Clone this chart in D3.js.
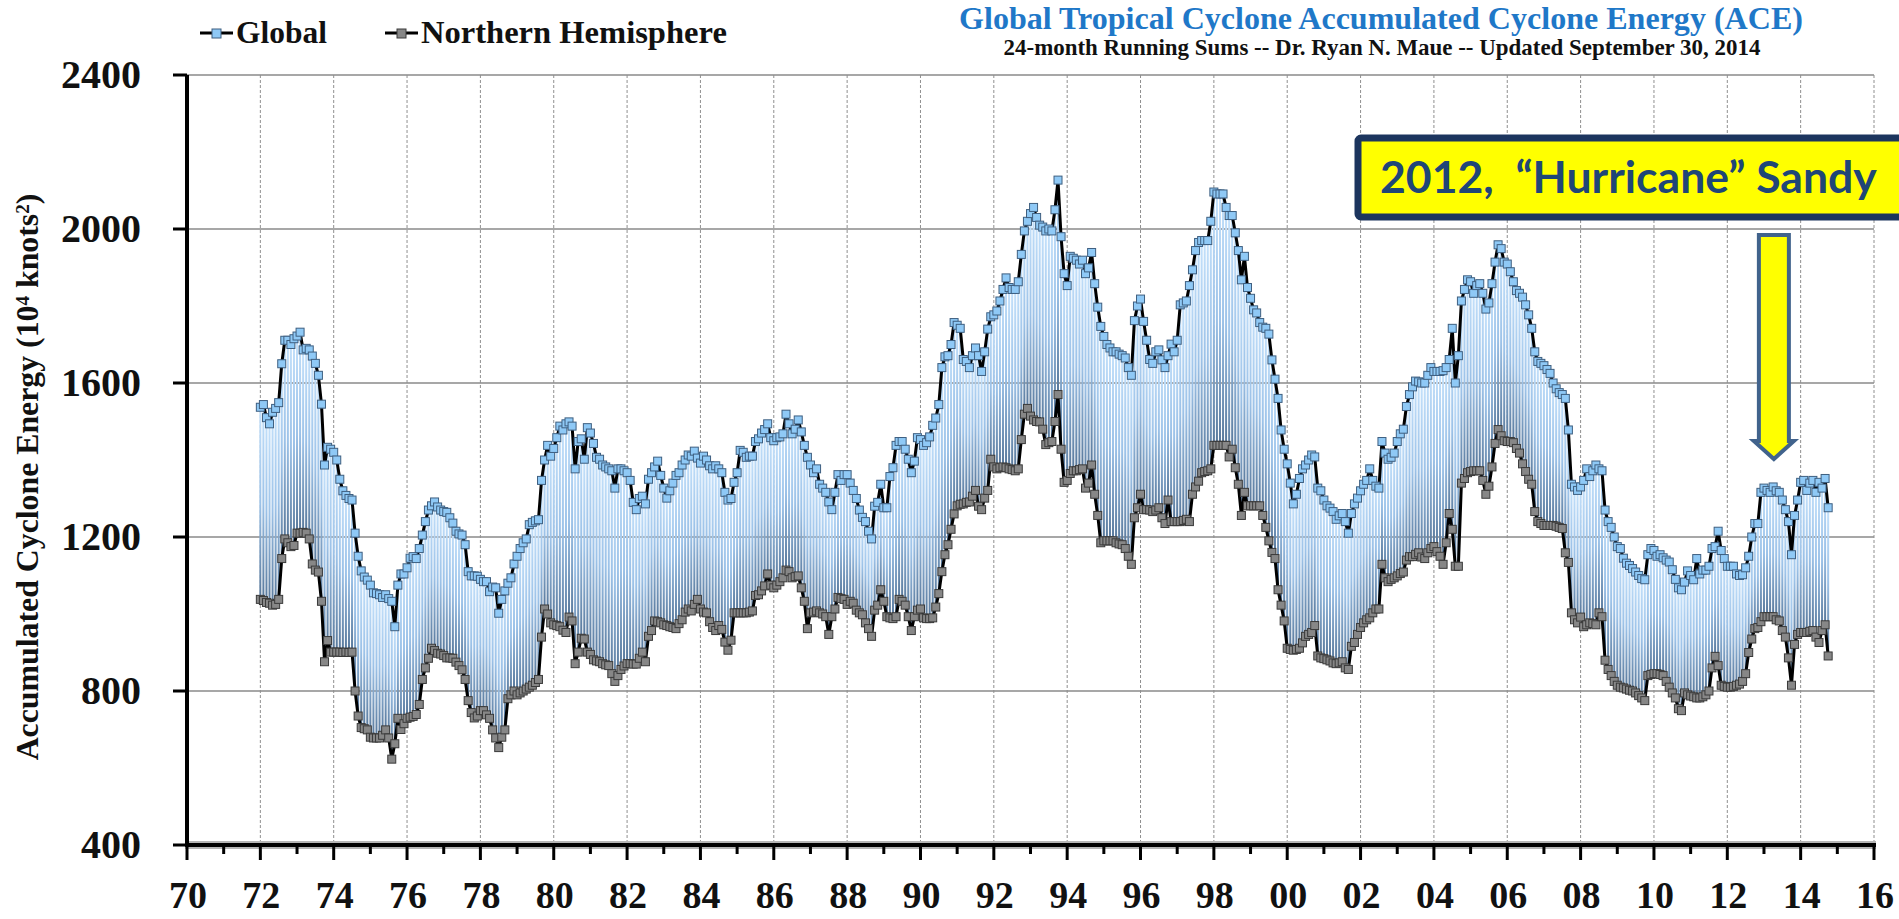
<!DOCTYPE html>
<html>
<head>
<meta charset="utf-8">
<script src="https://cdn.jsdelivr.net/npm/d3@7"></script>
<style>
  html, body { margin: 0; padding: 0; background: #fff; }
  svg { display: block; }
  text { font-family: "Liberation Serif", "Times New Roman", serif; font-weight: bold; }
</style>
</head>
<body>
<div id="chart"></div>
<script>
// 24-month running sums, one value per month starting Jan 1972
const startYear = 1972;

const globalAce = [
  1537,1544,1510,1494,1524,1534,1549,1650,1711,1711,1700,1715,
  1722,1732,1686,1690,1686,1670,1651,1620,1545,1387,1433,1428,
  1420,1400,1350,1320,1308,1300,1296,1210,1150,1112,1096,1088,
  1075,1055,1053,1050,1043,1050,1040,1033,967,1075,1104,1104,
  1120,1145,1149,1144,1170,1205,1240,1270,1281,1291,1278,1270,
  1266,1264,1250,1236,1215,1208,1205,1180,1110,1099,1099,1098,
  1090,1084,1084,1058,1070,1068,1002,1038,1060,1080,1094,1130,
  1150,1170,1185,1195,1232,1238,1242,1245,1347,1400,1438,1410,
  1430,1458,1488,1478,1494,1499,1488,1377,1448,1455,1402,1484,
  1470,1443,1407,1402,1387,1382,1377,1372,1327,1377,1377,1372,
  1367,1347,1290,1271,1300,1306,1286,1350,1367,1382,1397,1360,
  1327,1301,1320,1340,1360,1367,1387,1400,1413,1410,1423,1405,
  1392,1410,1400,1385,1377,1385,1377,1367,1316,1296,1300,1342,
  1367,1425,1420,1407,1410,1410,1448,1455,1470,1479,1494,1458,
  1450,1458,1460,1468,1519,1494,1468,1480,1504,1473,1438,1407,
  1387,1367,1377,1337,1327,1316,1291,1271,1316,1362,1347,1362,
  1362,1340,1321,1300,1270,1251,1240,1215,1195,1280,1290,1337,
  1276,1276,1357,1380,1438,1448,1448,1428,1402,1367,1397,1458,
  1453,1438,1445,1460,1490,1509,1544,1640,1668,1671,1700,1757,
  1750,1742,1661,1656,1640,1671,1691,1671,1630,1681,1740,1772,
  1777,1787,1813,1843,1873,1848,1843,1843,1863,1934,1995,2020,
  2040,2056,2030,2010,2005,1995,2000,1995,2050,2127,1980,1884,
  1853,1929,1924,1919,1909,1919,1884,1899,1939,1858,1797,1747,
  1721,1700,1691,1681,1681,1675,1671,1665,1640,1620,1762,1800,
  1818,1760,1711,1661,1651,1681,1686,1660,1640,1671,1701,1681,
  1711,1803,1808,1813,1853,1894,1944,1965,1970,1970,1970,2020,
  2096,2091,2091,2091,2056,2035,2035,1990,1944,1868,1929,1848,
  1820,1790,1782,1757,1745,1742,1727,1660,1610,1560,1478,1428,
  1390,1340,1286,1311,1352,1377,1387,1400,1413,1408,1327,1320,
  1296,1281,1275,1266,1246,1255,1261,1240,1210,1261,1286,1301,
  1320,1337,1347,1377,1347,1332,1327,1448,1418,1402,1407,1418,
  1448,1468,1480,1539,1570,1590,1605,1603,1600,1600,1620,1640,
  1630,1630,1630,1632,1640,1661,1742,1600,1671,1813,1843,1868,
  1863,1833,1853,1858,1833,1792,1808,1858,1914,1959,1949,1914,
  1909,1889,1863,1840,1833,1823,1803,1777,1742,1681,1656,1651,
  1645,1635,1625,1600,1585,1575,1570,1560,1478,1337,1330,1321,
  1330,1347,1377,1357,1372,1387,1377,1372,1270,1240,1225,1200,
  1175,1170,1145,1132,1126,1118,1109,1100,1092,1089,1154,1170,
  1165,1150,1154,1146,1140,1135,1115,1090,1068,1063,1083,1112,
  1100,1089,1144,1104,1114,1114,1124,1170,1175,1215,1165,1144,
  1124,1124,1124,1104,1100,1102,1120,1150,1200,1235,1235,1316,
  1327,1321,1316,1330,1320,1316,1296,1271,1240,1154,1256,1296,
  1342,1347,1321,1340,1347,1316,1342,1327,1352,1276
];

const nhAce = [
  1038,1035,1030,1028,1023,1025,1038,1144,1195,1185,1175,1178,
  1210,1210,1212,1210,1195,1130,1114,1109,1033,876,931,901,
  901,901,901,900,901,900,901,800,735,705,702,699,
  680,678,678,678,685,699,678,623,663,729,700,715,
  729,732,734,739,765,830,860,885,911,905,898,896,
  892,886,886,885,875,866,855,830,775,744,730,735,
  749,749,738,729,699,678,653,680,699,780,790,800,
  790,795,800,805,810,815,822,830,940,1013,1000,977,
  972,970,967,958,952,992,982,871,901,937,935,901,
  895,881,878,876,871,868,866,845,825,840,856,865,
  871,871,870,870,885,901,876,942,957,982,980,977,
  972,970,967,965,962,975,985,1005,1013,1008,1025,1038,
  1013,1005,1003,980,965,957,970,960,927,906,932,1003,
  1003,1003,1003,1003,1005,1008,1048,1050,1060,1073,1104,1075,
  1068,1075,1084,1094,1114,1110,1094,1097,1099,1068,1033,962,
  1003,1005,1008,1003,1000,993,947,993,1013,1043,1040,1038,
  1025,1033,1028,1010,1003,998,977,962,942,1010,1023,1063,
  1033,993,990,988,993,1038,1033,1023,993,957,993,1010,
  1013,990,988,988,990,1018,1053,1110,1154,1180,1220,1260,
  1281,1285,1286,1290,1291,1306,1321,1280,1271,1301,1321,1402,
  1382,1377,1380,1382,1380,1377,1375,1372,1377,1453,1519,1534,
  1514,1504,1500,1499,1480,1440,1445,1448,1500,1570,1428,1342,
  1347,1365,1372,1372,1375,1377,1327,1340,1387,1311,1256,1185,
  1190,1190,1190,1190,1185,1182,1180,1170,1150,1129,1250,1276,
  1311,1271,1271,1270,1266,1270,1276,1250,1235,1296,1240,1240,
  1240,1240,1243,1246,1240,1311,1330,1345,1367,1370,1372,1377,
  1438,1438,1438,1438,1438,1408,1428,1380,1337,1256,1316,1281,
  1281,1281,1281,1281,1256,1225,1190,1160,1144,1063,1023,982,
  911,908,906,908,911,925,942,947,952,970,891,886,
  884,881,878,873,871,873,876,860,856,916,926,947,
  965,977,985,990,1003,1013,1013,1129,1094,1084,1090,1094,
  1099,1105,1109,1140,1149,1149,1155,1159,1148,1144,1159,1170,
  1175,1162,1150,1129,1185,1261,1220,1124,1124,1340,1352,1367,
  1370,1372,1372,1372,1347,1311,1332,1382,1443,1479,1463,1450,
  1448,1448,1445,1430,1418,1390,1370,1350,1337,1266,1240,1235,
  1230,1230,1230,1230,1228,1225,1222,1159,1134,1003,985,977,
  992,967,972,977,975,972,1003,993,880,856,840,825,
  815,810,808,805,802,800,795,788,782,775,840,843,
  845,845,843,840,825,810,795,782,754,749,795,790,
  787,785,782,782,785,790,800,860,890,866,815,812,
  810,810,812,815,818,825,845,900,935,962,965,980,
  993,993,993,993,985,982,957,940,886,815,921,947,
  952,952,952,955,957,940,926,957,972,891
];

const yTicks = [400, 800, 1200, 1600, 2000, 2400];
const xMajorYears = [1970,1972,1974,1976,1978,1980,1982,1984,1986,1988,1990,1992,
  1994,1996,1998,2000,2002,2004,2006,2008,2010,2012,2014,2016];
const xMinorYears = [1971,1973,1975,1977,1979,1981,1983,1985,1987,1989,1991,1993,
  1995,1997,1999,2001,2003,2005,2007,2009,2011,2013,2015];

const width = 1899;
const height = 919;

const svg = d3.select("#chart").append("svg")
  .attr("width", width)
  .attr("height", height);

const x = d3.scaleLinear().domain([1970, 2016]).range([187, 1874]);
const y = d3.scaleLinear().domain([400, 2400]).range([845, 75]);

const data = globalAce.map((g, i) => ({ t: startYear + i / 12, g: g, nh: nhAce[i] }));

// squeeze / stretch a text's font size until it has the wanted width
function fitWidth(sel, w) {
  const cur = sel.node().getComputedTextLength();
  const fs = parseFloat(sel.style("font-size"));
  sel.style("font-size", (fs * w / cur) + "px");
}

const defs = svg.append("defs");
const grad = defs.append("linearGradient")
  .attr("id", "hl")
  .attr("x1", 0).attr("y1", 0).attr("x2", 0).attr("y2", 1);
grad.append("stop").attr("offset", "0%").attr("stop-color", "#c4e1fb");
grad.append("stop").attr("offset", "50%").attr("stop-color", "#9cc2e8");
grad.append("stop").attr("offset", "100%").attr("stop-color", "#57779a");

// grid
svg.append("g")
  .selectAll("line")
  .data(yTicks.filter((d) => d > 400))
  .join("line")
  .attr("x1", x(1970)).attr("x2", x(2016))
  .attr("y1", (d) => y(d)).attr("y2", (d) => y(d))
  .attr("stroke", "#8a8a8a")
  .attr("stroke-width", 1.3);

svg.append("g")
  .selectAll("line")
  .data(xMajorYears.filter((d) => d > 1970))
  .join("line")
  .attr("x1", (d) => x(d)).attr("x2", (d) => x(d))
  .attr("y1", y(2400)).attr("y2", y(400))
  .attr("stroke", "#8f8f8f")
  .attr("stroke-width", 1)
  .attr("stroke-dasharray", "3 2");

// high-low lines between the two series
svg.append("g")
  .selectAll("rect")
  .data(data)
  .join("rect")
  .attr("x", (d) => x(d.t) - 1)
  .attr("width", 2)
  .attr("y", (d) => y(d.g))
  .attr("height", (d) => y(d.nh) - y(d.g))
  .attr("fill", "url(#hl)");

const lineG = d3.line().x((d) => x(d.t)).y((d) => y(d.g));
const lineN = d3.line().x((d) => x(d.t)).y((d) => y(d.nh));

svg.append("path").datum(data).attr("d", lineN)
  .attr("fill", "none").attr("stroke", "#000").attr("stroke-width", 3)
  .attr("stroke-linejoin", "round");
svg.append("path").datum(data).attr("d", lineG)
  .attr("fill", "none").attr("stroke", "#000").attr("stroke-width", 3)
  .attr("stroke-linejoin", "round");

const ms = 8;
svg.append("g")
  .selectAll("rect")
  .data(data)
  .join("rect")
  .attr("x", (d) => x(d.t) - ms / 2)
  .attr("y", (d) => y(d.nh) - ms / 2)
  .attr("width", ms).attr("height", ms)
  .attr("fill", "#878787")
  .attr("stroke", "#3a3a3a")
  .attr("stroke-width", 1);

svg.append("g")
  .selectAll("rect")
  .data(data)
  .join("rect")
  .attr("x", (d) => x(d.t) - ms / 2)
  .attr("y", (d) => y(d.g) - ms / 2)
  .attr("width", ms).attr("height", ms)
  .attr("fill", "#8fc9f6")
  .attr("stroke", "#3e5f80")
  .attr("stroke-width", 1);

// axes
svg.append("line")
  .attr("x1", x(1970) - 2).attr("x2", x(2016) + 2)
  .attr("y1", y(400)).attr("y2", y(400))
  .attr("stroke", "#b5b5b5").attr("stroke-width", 8);
svg.append("line")
  .attr("x1", x(1970) - 2).attr("x2", x(2016) + 2)
  .attr("y1", y(400)).attr("y2", y(400))
  .attr("stroke", "#000").attr("stroke-width", 4);
svg.append("line")
  .attr("x1", x(1970)).attr("x2", x(1970))
  .attr("y1", y(2400)).attr("y2", y(400))
  .attr("stroke", "#000").attr("stroke-width", 4);

svg.append("g")
  .selectAll("line")
  .data(yTicks)
  .join("line")
  .attr("x1", x(1970) - 14).attr("x2", x(1970))
  .attr("y1", (d) => y(d)).attr("y2", (d) => y(d))
  .attr("stroke", "#000").attr("stroke-width", 3);

svg.append("g")
  .selectAll("line")
  .data(xMajorYears)
  .join("line")
  .attr("x1", (d) => x(d)).attr("x2", (d) => x(d))
  .attr("y1", y(400)).attr("y2", y(400) + 15)
  .attr("stroke", "#000").attr("stroke-width", 3);
svg.append("g")
  .selectAll("line")
  .data(xMinorYears)
  .join("line")
  .attr("x1", (d) => x(d)).attr("x2", (d) => x(d))
  .attr("y1", y(400)).attr("y2", y(400) + 9)
  .attr("stroke", "#000").attr("stroke-width", 3);

svg.append("g")
  .selectAll("text")
  .data(yTicks)
  .join("text")
  .attr("x", 141)
  .attr("y", (d) => y(d) + 13)
  .attr("text-anchor", "end")
  .style("font-size", "40px")
  .attr("fill", "#111")
  .text((d) => d);

svg.append("g")
  .selectAll("text")
  .data(xMajorYears)
  .join("text")
  .attr("x", (d) => x(d) + 1)
  .attr("y", 908)
  .attr("text-anchor", "middle")
  .style("font-size", "38px")
  .attr("fill", "#111")
  .text((d) => d3.format("02d")(d % 100));

// y axis title
const yTitle = svg.append("text")
  .attr("transform", "translate(38,477) rotate(-90)")
  .attr("text-anchor", "middle")
  .style("font-size", "26px")
  .attr("fill", "#111");
yTitle.append("tspan").text("Accumulated Cyclone Energy (10");
yTitle.append("tspan").attr("dy", -9).style("font-size", "0.6em").text("4");
yTitle.append("tspan").attr("dy", 9).text(" knots");
yTitle.append("tspan").attr("dy", -9).style("font-size", "0.6em").text("2");
yTitle.append("tspan").attr("dy", 9).text(")");
fitWidth(yTitle, 567);

// title block
const title = svg.append("text")
  .attr("x", 1381).attr("y", 29)
  .attr("text-anchor", "middle")
  .style("font-size", "28px")
  .attr("fill", "#1f78c8")
  .text("Global Tropical Cyclone Accumulated Cyclone Energy (ACE)");
fitWidth(title, 844);

const subtitle = svg.append("text")
  .attr("x", 1382).attr("y", 55)
  .attr("text-anchor", "middle")
  .style("font-size", "20px")
  .attr("fill", "#111")
  .text("24-month Running Sums -- Dr. Ryan N. Maue -- Updated September 30, 2014");
fitWidth(subtitle, 757);

// legend
const legendItems = [
  { name: "Global", x0: 200, fill: "#8fc9f6", stroke: "#3e5f80", w: 91 },
  { name: "Northern Hemisphere", x0: 385, fill: "#878787", stroke: "#3a3a3a", w: 306 }
];
legendItems.forEach((it) => {
  svg.append("line")
    .attr("x1", it.x0).attr("x2", it.x0 + 33)
    .attr("y1", 33).attr("y2", 33)
    .attr("stroke", "#000").attr("stroke-width", 3);
  svg.append("rect")
    .attr("x", it.x0 + 12).attr("y", 29)
    .attr("width", 9).attr("height", 9)
    .attr("fill", it.fill).attr("stroke", it.stroke);
  const t = svg.append("text")
    .attr("x", it.x0 + 36).attr("y", 43)
    .style("font-size", "30px")
    .attr("fill", "#111")
    .text(it.name);
  fitWidth(t, it.w);
});

// annotation: box + arrow
svg.append("rect")
  .attr("x", 1358).attr("y", 138)
  .attr("width", 600).attr("height", 79)
  .attr("rx", 3)
  .attr("fill", "#ffff00")
  .attr("stroke", "#1c355e")
  .attr("stroke-width", 7);

const note = svg.append("text")
  .attr("x", 1380).attr("y", 193)
  .style("font-family", "Lato, 'Open Sans', sans-serif")
  .style("font-size", "40px")
  .style("white-space", "pre")
  .attr("fill", "#1f4677")
  .text("2012,  \u201CHurricane\u201D Sandy");
fitWidth(note, 497);

const ax = x(2013.27);
svg.append("path")
  .attr("d", `M${ax - 15},235 L${ax + 15},235 L${ax + 15},441 L${ax + 20},441 ` +
             `L${ax},459 L${ax - 20},441 L${ax - 15},441 Z`)
  .attr("fill", "#ffff00")
  .attr("stroke", "#41638c")
  .attr("stroke-width", 4)
  .attr("stroke-linejoin", "miter");
</script>
</body>
</html>
